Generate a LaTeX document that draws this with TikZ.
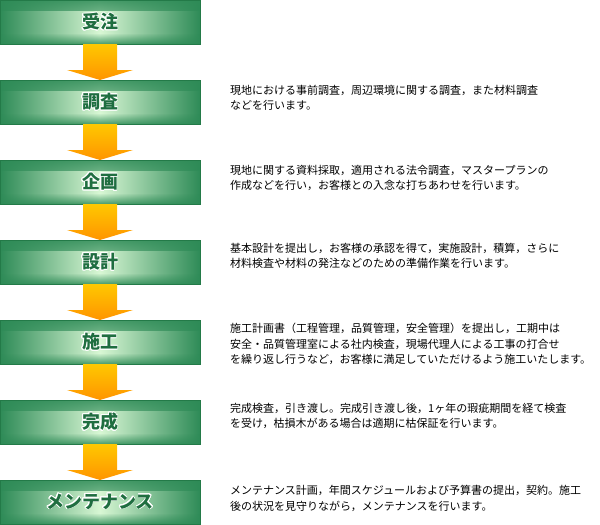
\documentclass[tikz,border=0pt]{standalone}
\usepackage{fontspec}
\setmainfont{Noto Sans CJK JP}
\usepackage[copies]{contour}
\contourlength{0.7pt}
\usetikzlibrary{calc,fadings}
\definecolor{gdark}{HTML}{2E8B57}
\definecolor{gedge}{HTML}{237A48}
\definecolor{glight}{HTML}{D8F7D4}
\definecolor{gtext}{HTML}{1F6E40}
\definecolor{aryellow}{HTML}{FFC800}
\definecolor{arorange}{HTML}{FF9400}
\tikzfading[name=fadetop, top color=transparent!15, bottom color=transparent!100]
\tikzfading[name=fadebot, top color=transparent!100, bottom color=transparent!15]
\newcommand\stagelabel[1]{\contour{white}{#1}}
\tikzset{
  stagebox/.style={minimum width=200pt, minimum height=44pt, inner sep=0pt, outer sep=0pt,
    left color=gdark, right color=gdark, middle color=glight,
    draw=gedge, line width=0.8pt,
    font=\bfseries\fontsize{18}{20}\selectfont, text=gtext,
    path picture={
      \fill[gdark, path fading=fadetop] (path picture bounding box.north west) rectangle ($(path picture bounding box.north east)+(0,-11pt)$);
      \fill[gdark, path fading=fadebot] (path picture bounding box.south west) rectangle ($(path picture bounding box.south east)+(0,11pt)$);
    }},
  flowarrow/.style={top color=aryellow, bottom color=arorange, draw=none},
  desc/.style={anchor=north west, inner sep=0pt, align=left, text=black,
    font=\fontsize{11}{15.5}\selectfont}
}
\begin{document}
\begin{tikzpicture}[x=1pt,y=-1pt]
\useasboundingbox (0,0) rectangle (600,525);
\fill[white] (0,0) rectangle (600,525);
\node[stagebox] (s1) at (100,22) {\stagelabel{受注}};
\node[stagebox] (s2) at (100,102) {\stagelabel{調査}};
\node[stagebox] (s3) at (100,182) {\stagelabel{企画}};
\node[stagebox] (s4) at (100,262) {\stagelabel{設計}};
\node[stagebox] (s5) at (100,342) {\stagelabel{施工}};
\node[stagebox] (s6) at (100,422) {\stagelabel{完成}};
\node[stagebox] (s7) at (100,502) {\stagelabel{メンテナンス}};
\foreach \a/\b in {s1/s2,s2/s3,s3/s4,s4/s5,s5/s6,s6/s7}{
  \path[flowarrow] ($(\a.south)+(-17pt,0)$) -- ($(\a.south)+(17pt,0)$)
    -- ($(\b.north)+(17pt,10pt)$) -- ($(\b.north)+(33pt,10pt)$) -- (\b.north)
    -- ($(\b.north)+(-33pt,10pt)$) -- ($(\b.north)+(-17pt,10pt)$) -- cycle;
}
\node[desc] (t2) at ($(s2.north east)+(30pt,-5pt)$) {現地における事前調査，周辺環境に関する調査，また材料調査\\などを行います。};
\node[desc] (t3) at ($(s3.north east)+(30pt,-5pt)$) {現地に関する資料採取，適用される法令調査，マスタープランの\\作成などを行い，お客様との入念な打ちあわせを行います。};
\node[desc] (t4) at ($(s4.north east)+(30pt,-3pt)$) {基本設計を提出し，お客様の承認を得て，実施設計，積算，さらに\\材料検査や材料の発注などのための準備作業を行います。};
\node[desc] (t5) at ($(s5.north east)+(30pt,-3pt)$) {施工計画書（工程管理，品質管理，安全管理）を提出し，工期中は\\安全・品質管理室による社内検査，現場代理人による工事の打合せ\\を繰り返し行うなど，お客様に満足していただけるよう施工いたします。};
\node[desc] (t6) at ($(s6.north east)+(30pt,-3pt)$) {完成検査，引き渡し。完成引き渡し後，1ヶ年の瑕疵期間を経て検査\\を受け，枯損木がある場合は適期に枯保証を行います。};
\node[desc] (t7) at ($(s7.north east)+(30pt,-5pt)$) {メンテナンス計画，年間スケジュールおよび予算書の提出，契約。施工\\後の状況を見守りながら，メンテナンスを行います。};
\end{tikzpicture}
\end{document}
